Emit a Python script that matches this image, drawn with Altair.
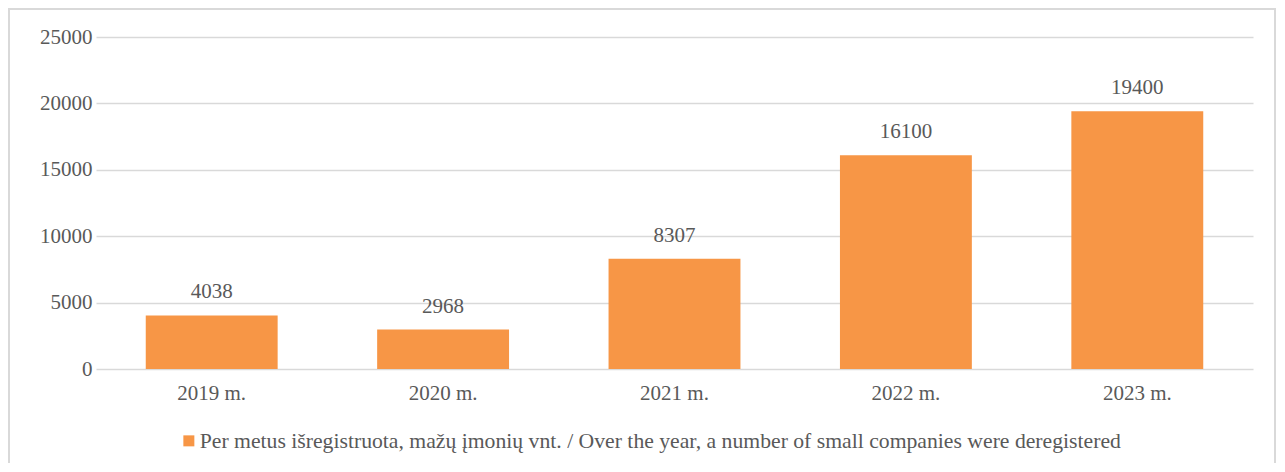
import altair as alt
import pandas as pd

years = ["2019 m.", "2020 m.", "2021 m.", "2022 m.", "2023 m."]
values = [4038, 2968, 8307, 16100, 19400]
series_name = "Per metus išregistruota, mažų  įmonių  vnt. / Over the year, a number of small companies were deregistered"

df = pd.DataFrame({"year": years, "value": values, "series": [series_name] * len(years)})

FONT = "Times New Roman, Liberation Serif, serif"
TEXT = "#595959"
FS = 21
W, H = 1157, 332
BORDER = "#D9D9D9"

base = alt.Chart(df)
one = alt.Chart(pd.DataFrame({"a": [0]}))

left_edge = one.mark_rule(color=BORDER, strokeWidth=2).encode(
    x=alt.value(-87), y=alt.value(-28), y2=alt.value(H + 200))
right_edge = one.mark_rule(color=BORDER, strokeWidth=2).encode(
    x=alt.value(W + 22), y=alt.value(-28), y2=alt.value(H + 200))
top_edge = one.mark_rule(color=BORDER, strokeWidth=2).encode(
    x=alt.value(-88), x2=alt.value(W + 23), y=alt.value(-28))

bars = base.mark_bar(color="#F79646").encode(
    x=alt.X("year:N", sort=years, title=None,
            scale=alt.Scale(paddingInner=0.43, paddingOuter=0.215),
            axis=alt.Axis(labelAngle=0, labelFont=FONT, labelFontSize=FS, labelColor=TEXT,
                          labelPadding=13, ticks=False, domain=False)),
    y=alt.Y("value:Q", title=None,
            scale=alt.Scale(domain=[0, 25000], nice=False),
            axis=alt.Axis(values=[0, 5000, 10000, 15000, 20000, 25000], format="d",
                          labelFont=FONT, labelFontSize=FS, labelColor=TEXT, labelPadding=4,
                          ticks=False, domain=False, grid=True, gridColor=BORDER,
                          gridWidth=1.5)),
    color=alt.Color("series:N", scale=alt.Scale(range=["#F79646"]),
                    legend=alt.Legend(title=None, orient="none", legendX=82, legendY=393,
                                      symbolType="square", symbolSize=121, labelFont=FONT,
                                      labelFontSize=21.7, labelColor=TEXT, labelLimit=2000,
                                      symbolStrokeWidth=0, labelOffset=0)),
)

labels = base.mark_text(font=FONT, fontSize=FS, color=TEXT, baseline="alphabetic", dy=-17).encode(
    x=alt.X("year:N", sort=years),
    y="value:Q",
    text="value:Q",
)

chart = alt.layer(left_edge, right_edge, top_edge, bars, labels).properties(
    width=W, height=H,
    autosize=alt.AutoSizeParams(type="none"),
    padding={"left": 88, "top": 29, "right": 24, "bottom": 94},
).configure_view(stroke=None).configure_text(font=FONT).configure_axis(labelFont=FONT).configure_legend(labelFont=FONT)

chart.save("out.html", embed_options={"renderer": "svg", "actions": False})
